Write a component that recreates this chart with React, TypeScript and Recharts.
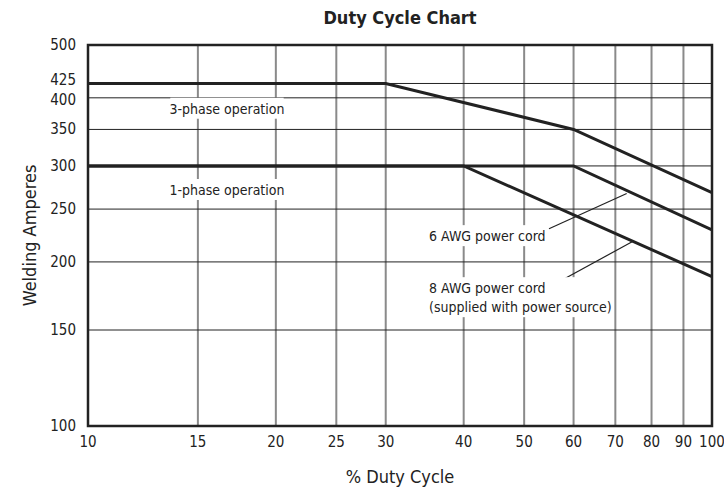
import { LineChart, Line, XAxis, YAxis, CartesianGrid, ReferenceArea, ReferenceLine, ReferenceDot, Label } from "recharts";

const FONT = "'Liberation Sans Narrow', 'DejaVu Sans Condensed', 'Roboto Condensed', Arial, sans-serif";
const INK = "#222";

const X_TICKS = [10, 15, 20, 25, 30, 40, 50, 60, 70, 80, 90, 100];
const Y_TICKS = [100, 150, 200, 250, 300, 350, 400, 425, 500];

// three rating curves, % duty vs amps
const THREE_PHASE = [
  { x: 10, y: 425 },
  { x: 30, y: 425 },
  { x: 60, y: 350 },
  { x: 100, y: 268 },
];
const AWG6 = [
  { x: 10, y: 300 },
  { x: 60, y: 300 },
  { x: 100, y: 229 },
];
const AWG8 = [
  { x: 10, y: 300 },
  { x: 40, y: 300 },
  { x: 100, y: 188 },
];

// annotation anchors (data coords)
const NOTES = [
  { x: 16.7, y: 382, lines: ["3-phase operation"], anchor: "middle" },
  { x: 16.7, y: 271, lines: ["1-phase operation"], anchor: "middle" },
  { x: 35.2, y: 223, lines: ["6 AWG power cord"], anchor: "start" },
  { x: 35.2, y: 179, lines: ["8 AWG power cord", "(supplied with power source)"], anchor: "start" },
];
const LEADERS = [
  [{ x: 54.8, y: 230 }, { x: 73, y: 267 }],
  [{ x: 55.9, y: 182 }, { x: 74.6, y: 218 }],
];

function NoteLabel({ viewBox, lines, anchor }: any) {
  const x = viewBox.x;
  const y = viewBox.y;
  const lh = 19;
  const charW = 6.2;
  const maxLen = Math.max(...lines.map((l: string) => l.length));
  const w = maxLen * charW + 8;
  const h = lines.length * lh + 2;
  const rx = anchor === "middle" ? x - w / 2 : x - 4;
  return (
    <g>
      <rect x={rx} y={y - 11} width={w} height={h} fill="#fff" />
      {lines.map((l: string, i: number) => (
        <text key={i} x={x} y={y + i * lh} dy={5} textAnchor={anchor} fontFamily={FONT} fontSize={14} fill={INK}>
          {l}
        </text>
      ))}
    </g>
  );
}

// 425 and 400 sit close together, nudge them apart like the print does
function YTick({ x, y, payload }: any) {
  const shift = payload.value === 425 ? -3 : payload.value === 400 ? 2 : 0;
  return (
    <text x={x} y={y + shift} dy={5} textAnchor="end" fontFamily={FONT} fontSize={15} fill={INK}>
      {payload.value}
    </text>
  );
}

export default function App() {
  return (
    <div style={{ position: "absolute", left: 0, top: 0, width: 724, height: 492, background: "#fff" }}>
      <div style={{ position: "absolute", left: 0, top: 7, width: 800, textAlign: "center", fontFamily: FONT, fontWeight: 700, fontSize: 18, color: INK }}>
        Duty Cycle Chart
      </div>
      <LineChart width={724} height={492} margin={{ top: 45, right: 12, left: 0, bottom: 0 }}>
        <CartesianGrid horizontal={false} stroke="#8a8a8a" strokeWidth={2} />
        <CartesianGrid vertical={false} stroke="#222" strokeWidth={1} />
        <XAxis
          dataKey="x"
          type="number"
          scale="log"
          domain={[10, 100]}
          ticks={X_TICKS}
          allowDataOverflow
          height={66}
          axisLine={false}
          tickLine={false}
          tick={{ fontFamily: FONT, fontSize: 15, fill: INK }}
          tickMargin={4}
        >
          <Label value="% Duty Cycle" position="insideBottom" offset={9} style={{ fontFamily: FONT, fontSize: 18, fill: INK }} />
        </XAxis>
        <YAxis
          type="number"
          scale="log"
          domain={[100, 500]}
          ticks={Y_TICKS}
          allowDataOverflow
          width={88}
          axisLine={false}
          tickLine={false}
          interval={0}
          tick={<YTick />}
          tickMargin={6}
        >
          <Label value="Welding Amperes" angle={-90} position="insideLeft" offset={30} style={{ fontFamily: FONT, fontSize: 18, fill: INK, textAnchor: "middle" }} />
        </YAxis>
        {NOTES.map((n, i) => (
          <ReferenceDot key={i} x={n.x} y={n.y} r={0} stroke="none" fill="none" label={<NoteLabel lines={n.lines} anchor={n.anchor} />} />
        ))}
        {LEADERS.map((seg, i) => (
          <ReferenceLine key={i} segment={seg} stroke={INK} strokeWidth={1.2} />
        ))}
        <ReferenceArea x1={10} x2={100} y1={100} y2={500} fill="none" stroke={INK} strokeWidth={2.5} />
        <Line data={THREE_PHASE} dataKey="y" stroke={INK} strokeWidth={3} dot={false} isAnimationActive={false} />
        <Line data={AWG6} dataKey="y" stroke={INK} strokeWidth={3} dot={false} isAnimationActive={false} />
        <Line data={AWG8} dataKey="y" stroke={INK} strokeWidth={3} dot={false} isAnimationActive={false} />
      </LineChart>
    </div>
  );
}
